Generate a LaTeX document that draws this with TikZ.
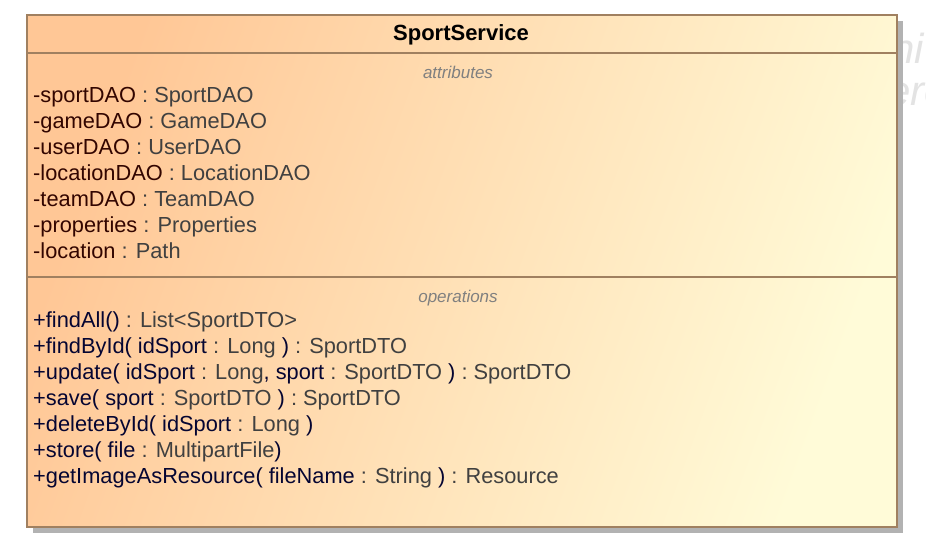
\documentclass[tikz,border=0pt]{standalone}
\usepackage{fontspec}
\setmainfont{Liberation Sans}

\definecolor{classedge}{RGB}{160,128,96}
\definecolor{classtop}{RGB}{255,199,150}
\definecolor{classbot}{RGB}{255,251,216}
\definecolor{attrname}{RGB}{50,5,0}
\definecolor{opname}{RGB}{5,5,50}
\definecolor{typegray}{RGB}{64,64,64}

\newcommand{\an}[1]{\textcolor{attrname}{#1}}
\newcommand{\on}[1]{\textcolor{opname}{#1}}
\newcommand{\ty}[1]{\textcolor{typegray}{#1}}

\begin{document}
\begin{tikzpicture}[x=1pt, y=-1pt,
	row/.style={anchor=base west, inner sep=0pt, font=\fontsize{21.8}{25}\selectfont},
	compart/.style={anchor=base, inner sep=0pt, text=gray, font=\fontsize{17}{20}\selectfont\itshape},
	wmark/.style={anchor=base west, inner sep=0pt, text=black!11, font=\fontsize{42}{46}\selectfont\itshape}]

\useasboundingbox (0,0) rectangle (926,549);

% Marca de agua
\begin{scope}
	\clip (0,0) rectangle (926,549);
	\node[wmark] (wm1) at (891,63) {ni};
	\node[wmark] (wm2) at (887,105) {ere};
\end{scope}

% Clase
\fill[black!30] (33,21) rectangle (903,533);
\shade[left color=classtop, right color=classbot, shading angle=70] (27,15) rectangle (897,527);
\draw[classedge, line width=1.8pt] (27,15) rectangle (897,527);
\draw[classedge, line width=1.8pt] (27,53) -- (897,53);
\draw[classedge, line width=1.8pt] (27,277) -- (897,277);

\node[anchor=base, inner sep=0pt, font=\fontsize{22}{26}\selectfont\bfseries] (title) at (461,40) {SportService};

% Atributos
\node[compart] (attr) at (458,78) {attributes};
\foreach \t [count=\i from 0] in {
	{\an{-sportDAO} \ty{: SportDAO}},
	{\an{-gameDAO} \ty{: GameDAO}},
	{\an{-userDAO} \ty{: UserDAO}},
	{\an{-locationDAO} \ty{: LocationDAO}},
	{\an{-teamDAO} \ty{: TeamDAO}},
	{\an{-properties} \ty{: Properties}},
	{\an{-location} \ty{: Path}}}
	\node[row] (a\i) at (33,102+26*\i) {\t};

% Operaciones
\node[compart] (ops) at (458,302) {operations};
\foreach \t [count=\i from 0] in {
	{\on{+findAll()} \ty{: List<SportDTO>}},
	{\on{+findById( idSport} \ty{: Long} \on{)} \ty{: SportDTO}},
	{\on{+update( idSport} \ty{: Long}\on{, sport} \ty{: SportDTO} \on{)} \ty{: SportDTO}},
	{\on{+save( sport} \ty{: SportDTO} \on{)} \ty{: SportDTO}},
	{\on{+deleteById( idSport} \ty{: Long} \on{)}},
	{\on{+store( file} \ty{: MultipartFile}\on{)}},
	{\on{+getImageAsResource( fileName} \ty{: String} \on{)} \ty{: Resource}}}
	\node[row] (o\i) at (33,327+26*\i) {\t};

\end{tikzpicture}
\end{document}
